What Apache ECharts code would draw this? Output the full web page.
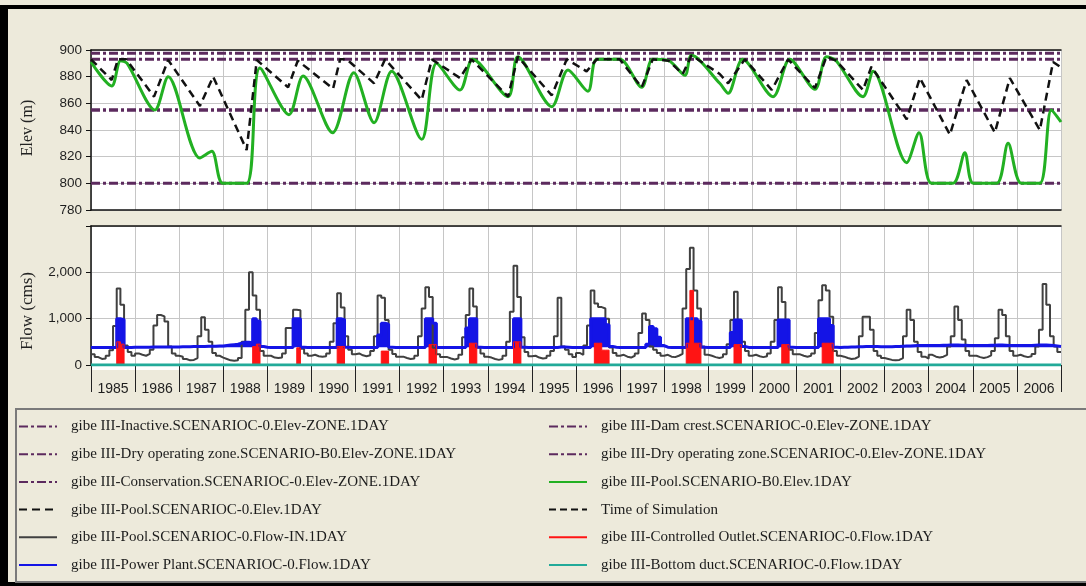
<!DOCTYPE html>
<html>
<head>
<meta charset="utf-8">
<script src="https://cdn.jsdelivr.net/npm/echarts@6/dist/echarts.min.js"></script>
<style>
  html, body { margin: 0; padding: 0; background: #edeadb; }
  #chart { width: 1086px; height: 586px; }
</style>
</head>
<body>
<div id="chart"></div>
<script>
// ---- Reservoir zone levels (m) ----
const damCrest = 897.5;
const conservationTop = 893;
const dryZoneB0 = 855;
const dryZoneC0 = 855;
const inactiveLevel = 800;

// ---- Year tick labels ----
const years = ['1985','1986','1987','1988','1989','1990','1991','1992','1993','1994','1995',
               '1996','1997','1998','1999','2000','2001','2002','2003','2004','2005','2006'];

// ---- Pool elevation, scenario C-0 [decimal year, m] ----
const poolC0 = [
  [1985.00, 893], [1985.47, 877.5], [1985.61, 893], [1985.80, 893], [1986.43, 865],
  [1986.75, 892.5], [1987.47, 858], [1987.77, 880], [1988.53, 825], [1988.76, 892.5],
  [1989.47, 872], [1989.69, 892], [1990.49, 871], [1990.65, 893], [1990.80, 893],
  [1991.42, 875], [1991.67, 893], [1992.50, 862.5], [1992.73, 893], [1993.37, 879],
  [1993.63, 893], [1994.46, 865], [1994.68, 895], [1995.45, 866], [1995.79, 893],
  [1996.24, 884], [1996.47, 893], [1996.99, 893], [1997.49, 872], [1997.74, 893],
  [1998.10, 892], [1998.42, 882], [1998.62, 896], [1999.26, 882], [1999.45, 875],
  [1999.83, 893], [2000.44, 870], [2000.81, 893], [2001.42, 871.5], [2001.68, 895],
  [2001.90, 892], [2002.51, 870], [2002.70, 887.5], [2003.50, 848], [2003.80, 879],
  [2004.48, 836.5], [2004.86, 877.5], [2005.50, 838], [2005.84, 879], [2006.52, 840],
  [2006.82, 891], [2007.00, 887]
];

// ---- Pool elevation, scenario B0 [decimal year, m] ----
const poolB0 = [
  [1985.00, 891], [1985.47, 873], [1985.67, 892], [1985.82, 890], [1986.45, 855],
  [1986.75, 880], [1987.47, 819], [1987.74, 824], [1987.99, 800], [1988.53, 800],
  [1988.83, 886.5], [1989.49, 851.5], [1989.81, 880.5], [1990.48, 838], [1990.96, 883],
  [1991.42, 845.5], [1991.82, 884], [1992.50, 833], [1992.84, 890], [1993.37, 870],
  [1993.66, 893], [1994.46, 865], [1994.68, 895], [1995.45, 857.5], [1995.82, 885],
  [1996.27, 869], [1996.47, 893], [1996.99, 893], [1997.49, 872], [1997.74, 893],
  [1998.10, 892], [1998.47, 881], [1998.62, 896], [1999.26, 875], [1999.45, 867.5],
  [1999.78, 893], [2000.47, 865], [2000.85, 893], [2001.42, 870.5], [2001.68, 895],
  [2001.90, 892], [2002.51, 865], [2002.74, 884], [2003.50, 815.5], [2003.78, 838],
  [2004.06, 800], [2004.55, 800], [2004.82, 823], [2005.01, 800], [2005.54, 800],
  [2005.80, 830], [2006.10, 800], [2006.52, 800], [2006.78, 855], [2007.00, 846]
];

// ---- Monthly pool inflow (cms), one row per year Jan..Dec ----
const inflow = [
  [230,170,130,140,200,320, 840,1650,1300, 420,280,200],   // 1985
  [250,220,200,240,330,850,1080,1050, 940, 400,250,200],   // 1986
  [180,130,100,110,150,620,1030, 760, 500, 260,200,160],   // 1987
  [130,100, 90,100,150,500,1190,2000,1500,1190,300,200],   // 1988
  [200,160,150,160,250,800, 800,1190,1180, 350,250,200],   // 1989
  [220,190,180,190,250,500, 900,1550,1240, 620,330,230],   // 1990
  [250,210,190,210,300,620,1500,1450, 970, 330,240,180],   // 1991
  [180,150,130,140,200,620,1220,1680,1470, 370,230,170],   // 1992
  [170,140,120,140,220,600,1080,1650,1260, 380,250,180],   // 1993
  [160,130,110,130,200,500,1150,2140,1470, 600,280,190],   // 1994
  [200,160,140,150,200,300, 620,1450, 400, 330,230,170],   // 1995
  [260,220,420,850,1610,1330,1250,1220,1000,380,260,200],  // 1996
  [220,180,160,200,250,690,1110, 970, 400, 330,260,200],   // 1997
  [220,180,170,200,240,1220,2070,2530,1610,1220,400,220],  // 1998
  [200,170,150,170,230,450, 970,1580, 970, 500,300,200],   // 1999
  [220,190,170,190,250,500, 970,1680,1360, 970,330,230],   // 2000
  [230,200,180,200,250,690,1400,1720,1610,1040,300,200],   // 2001
  [180,150,130,140,180,620,1040,1040, 760, 300,200,150],   // 2002
  [130,110,100,110,150,620,1190, 970, 500, 280,180,140],   // 2003
  [220,180,160,180,220,400, 620,1260, 970, 550,300,200],   // 2004
  [200,170,150,170,210,300, 580,1190,1080, 620,300,200],   // 2005
  [220,190,170,190,240,400, 760,1750,1300, 620,400,280]    // 2006
];

// ---- Monthly power plant release (cms) ----
const powerPlant = [
  [380,380,380,380,380,380, 380,1000, 980, 380,380,385],   // 1985
  [385,385,385,385,390,390, 390, 390, 390, 390,390,390],   // 1986
  [395,395,395,400,400,400, 400, 405, 405, 405,410,410],   // 1987
  [420,430,440,450,470,490, 490, 480,1000, 950,400,385],   // 1988
  [380,380,380,380,380,380, 380,1000,1000, 385,380,380],   // 1989
  [380,380,380,380,380,380, 380,1000, 980, 385,380,380],   // 1990
  [380,380,380,380,380,380, 650, 900, 880, 385,380,380],   // 1991
  [380,380,380,380,380,380, 380,1000,1000, 900,380,380],   // 1992
  [380,380,380,380,380,380, 800,1000,1000, 385,380,380],   // 1993
  [380,380,380,380,380,380, 380,1000,1000, 385,380,380],   // 1994
  [380,380,380,380,380,380, 380, 390, 390, 385,380,380],   // 1995
  [380,380,380,380,1000,1000,1000,1000,870, 400,385,380],  // 1996
  [380,380,380,380,380,380, 380, 450, 830, 780,600,420],   // 1997
  [385,380,380,380,380,380,1000,1000,1000, 950,385,380],   // 1998
  [380,380,380,380,380,380, 700, 970, 970, 400,380,380],   // 1999
  [380,380,380,380,380,380, 380, 970, 970, 970,385,380],   // 2000
  [380,380,380,380,380,380,1000,1000,1000, 850,385,380],   // 2001
  [385,385,390,390,395,395, 400, 400, 400, 400,395,395],   // 2002
  [395,395,400,400,405,410, 410, 415, 420, 420,420,420],   // 2003
  [420,420,420,425,425,430, 430, 430, 425, 425,420,420],   // 2004
  [420,420,420,420,425,425, 430, 430, 425, 420,420,420],   // 2005
  [420,420,420,420,425,430, 430, 430, 425, 420,410,400]    // 2006
];

// ---- Controlled outlet releases [year, month, cms]; zero in all other months ----
const outletReleases = [
  [1985, 8, 500], [1985, 9, 450],
  [1988, 9, 400], [1988, 10, 450],
  [1989, 9, 370],
  [1990, 8, 400], [1990, 9, 400],
  [1991, 8, 300], [1991, 9, 300],
  [1992, 9, 440], [1992, 10, 440],
  [1993, 8, 470], [1993, 9, 470],
  [1994, 8, 500], [1994, 9, 500],
  [1996, 6, 470], [1996, 7, 470], [1996, 8, 320], [1996, 9, 320],
  [1998, 7, 470], [1998, 8, 1610], [1998, 9, 470], [1998, 10, 470],
  [1999, 8, 440], [1999, 9, 440],
  [2000, 9, 440], [2000, 10, 440],
  [2001, 8, 470], [2001, 9, 470], [2001, 10, 470]
];

// ---- Bottom duct flow (cms) ----
const bottomDuct = [[1985, 0], [2007, 0]];

// Monthly rows -> step points at the start of each month
function monthly(rows) {
  const pts = [];
  rows.forEach((row, y) => row.forEach((v, m) => pts.push([1985 + y + m / 12, v])));
  pts.push([2007, pts[pts.length - 1][1]]);
  return pts;
}
function fromReleases(list) {
  const rows = years.map(() => new Array(12).fill(0));
  list.forEach(([y, m, v]) => { rows[y - 1985][m - 1] = v; });
  return monthly(rows);
}

const N = {
  inactive: 'gibe III-Inactive.SCENARIOC-0.Elev-ZONE.1DAY',
  dryB0: 'gibe III-Dry operating zone.SCENARIO-B0.Elev-ZONE.1DAY',
  conservation: 'gibe III-Conservation.SCENARIOC-0.Elev-ZONE.1DAY',
  poolC0: 'gibe III-Pool.SCENARIOC-0.Elev.1DAY',
  inflow: 'gibe III-Pool.SCENARIOC-0.Flow-IN.1DAY',
  power: 'gibe III-Power Plant.SCENARIOC-0.Flow.1DAY',
  crest: 'gibe III-Dam crest.SCENARIOC-0.Elev-ZONE.1DAY',
  dryC0: 'gibe III-Dry operating zone.SCENARIOC-0.Elev-ZONE.1DAY',
  poolB0: 'gibe III-Pool.SCENARIO-B0.Elev.1DAY',
  sim: 'Time of Simulation',
  outlet: 'gibe III-Controlled Outlet.SCENARIOC-0.Flow.1DAY',
  duct: 'gibe III-Bottom duct.SCENARIOC-0.Flow.1DAY'
};

const ZONE_COLOR = '#5c2a5e';
const GRID_LINE = { show: true, lineStyle: { color: '#c6c6c6', width: 1 } };
const AXIS_TXT = { fontFamily: 'Liberation Sans, Arial, sans-serif', fontSize: 13.5, color: '#1e1e1e' };
const LEGEND_TXT = { fontFamily: 'Liberation Serif, Times New Roman, serif', fontSize: 15, color: '#1c1c1c', padding: [0, 0, 0, 9] };

function zone(name, level) {
  return {
    name, type: 'line', xAxisIndex: 0, yAxisIndex: 0, symbol: 'none', silent: true,
    data: [[1985, level], [2007, level]],
    itemStyle: { color: ZONE_COLOR },
    lineStyle: { color: ZONE_COLOR, width: 3, type: [9, 3, 3, 3] }
  };
}
function flowLine(name, data, color, width, extra) {
  return Object.assign({
    name, type: 'line', xAxisIndex: 2, yAxisIndex: 1, symbol: 'none', step: 'end',
    data, itemStyle: { color }, lineStyle: { color, width }
  }, extra || {});
}

const chart = echarts.init(document.getElementById('chart'), null, { renderer: 'canvas' });

chart.setOption({
  animation: false,
  backgroundColor: '#edeadb',
  grid: [
    { left: 91, top: 50, width: 970, height: 160, show: true, backgroundColor: '#ffffff', borderWidth: 0, outerBoundsMode: 'none' },
    { left: 91, top: 226, width: 970, height: 139, show: true, backgroundColor: '#ffffff', borderWidth: 0, outerBoundsMode: 'none' }
  ],
  xAxis: [
    { gridIndex: 0, type: 'value', min: 1985, max: 2007, interval: 1, position: 'bottom',
      axisLine: { show: true, lineStyle: { color: '#111', width: 1.5 } },
      axisTick: { show: false }, axisLabel: { show: false }, splitLine: GRID_LINE },
    { gridIndex: 0, type: 'value', min: 1985, max: 2007, position: 'top',
      axisLine: { show: true, lineStyle: { color: '#111', width: 1.5 } },
      axisTick: { show: false }, axisLabel: { show: false }, splitLine: { show: false } },
    { gridIndex: 1, type: 'value', min: 1985, max: 2007, interval: 1, position: 'bottom',
      axisLine: { show: false }, axisTick: { show: false }, axisLabel: { show: false }, splitLine: GRID_LINE },
    { gridIndex: 1, type: 'category', data: years, boundaryGap: true, position: 'bottom',
      axisLine: { show: false },
      axisTick: { show: true, interval: 0, length: 27, lineStyle: { color: '#222', width: 1 } },
      axisLabel: Object.assign({}, AXIS_TXT, { interval: 0, margin: 17, fontSize: 14 }),
      splitLine: { show: false } },
    { gridIndex: 1, type: 'value', min: 1985, max: 2007, position: 'top',
      axisLine: { show: true, lineStyle: { color: '#111', width: 1.5 } },
      axisTick: { show: false }, axisLabel: { show: false }, splitLine: { show: false } }
  ],
  yAxis: [
    { gridIndex: 0, type: 'value', min: 780, max: 900, interval: 20,
      axisLine: { show: true, lineStyle: { color: '#111', width: 1.5 } },
      axisTick: { show: true, length: 5, lineStyle: { color: '#111' } },
      axisLabel: Object.assign({ margin: 9 }, AXIS_TXT),
      splitLine: GRID_LINE },
    { gridIndex: 1, type: 'value', min: 0, max: 3000, interval: 1000,
      axisLine: { show: true, lineStyle: { color: '#111', width: 1.5 } },
      axisTick: { show: true, length: 5, lineStyle: { color: '#111' } },
      axisLabel: Object.assign({ margin: 9, formatter: v => v === 3000 ? '' : v.toLocaleString('en-US') }, AXIS_TXT),
      splitLine: GRID_LINE }
  ],
  legend: [
    { orient: 'vertical', left: 18, top: 419, padding: 0, itemWidth: 38, itemHeight: 14, itemGap: 12.7,
      selectedMode: false, itemStyle: { opacity: 0 }, textStyle: LEGEND_TXT,
      data: [N.inactive, N.dryB0, N.conservation, N.poolC0, N.inflow, N.power] },
    { orient: 'vertical', left: 548, top: 419, padding: 0, itemWidth: 38, itemHeight: 14, itemGap: 12.7,
      selectedMode: false, itemStyle: { opacity: 0 }, textStyle: LEGEND_TXT,
      data: [N.crest, N.dryC0, N.poolB0, N.sim, N.outlet, N.duct] }
  ],
  graphic: [
    { type: 'rect', z: -1, shape: { x: 91, y: 365, width: 970, height: 5 }, style: { fill: '#ffffff' } },
    { type: 'rect', shape: { x: 0, y: 5, width: 1086, height: 4 }, style: { fill: '#000' } },
    { type: 'rect', shape: { x: 0, y: 5, width: 8, height: 581 }, style: { fill: '#000' } },
    { type: 'rect', shape: { x: 0, y: 582, width: 1086, height: 4 }, style: { fill: '#000' } },
    { type: 'rect', shape: { x: 16, y: 409, width: 1080, height: 173 },
      style: { fill: 'none', stroke: '#7a7a7a', lineWidth: 2 } },
    { type: 'text', x: 28, y: 128, rotation: Math.PI / 2,
      style: { text: 'Elev (m)', fill: '#222', font: '16px "Liberation Serif", serif', textAlign: 'center', textVerticalAlign: 'middle' } },
    { type: 'text', x: 28, y: 311, rotation: Math.PI / 2,
      style: { text: 'Flow (cms)', fill: '#222', font: '17px "Liberation Serif", serif', textAlign: 'center', textVerticalAlign: 'middle' } }
  ],
  series: [
    zone(N.crest, damCrest),
    zone(N.conservation, conservationTop),
    zone(N.dryB0, dryZoneB0),
    zone(N.dryC0, dryZoneC0),
    zone(N.inactive, inactiveLevel),
    { name: N.sim, type: 'line', xAxisIndex: 0, yAxisIndex: 0, symbol: 'none', data: [],
      itemStyle: { color: '#111' }, lineStyle: { color: '#111', width: 1.2, type: [7, 4] } },
    { name: N.poolB0, type: 'line', xAxisIndex: 0, yAxisIndex: 0, symbol: 'none', smooth: 0.3,
      data: poolB0, itemStyle: { color: '#22b022' }, lineStyle: { color: '#22b022', width: 3 } },
    { name: N.poolC0, type: 'line', xAxisIndex: 0, yAxisIndex: 0, symbol: 'none',
      data: poolC0, itemStyle: { color: '#111' }, lineStyle: { color: '#111', width: 2.5, type: [8, 5] } },

    flowLine(N.inflow, monthly(inflow), '#404040', 2),
    flowLine(N.power, monthly(powerPlant), '#1414e6', 3,
      { areaStyle: { color: '#1414e6', opacity: 1, origin: 385 } }),
    flowLine(N.outlet, fromReleases(outletReleases), '#ff1414', 1,
      { areaStyle: { color: '#ff1414', opacity: 1 } }),
    flowLine(N.duct, bottomDuct, '#22aa99', 3, { step: false })
  ]
});
</script>
</body>
</html>
